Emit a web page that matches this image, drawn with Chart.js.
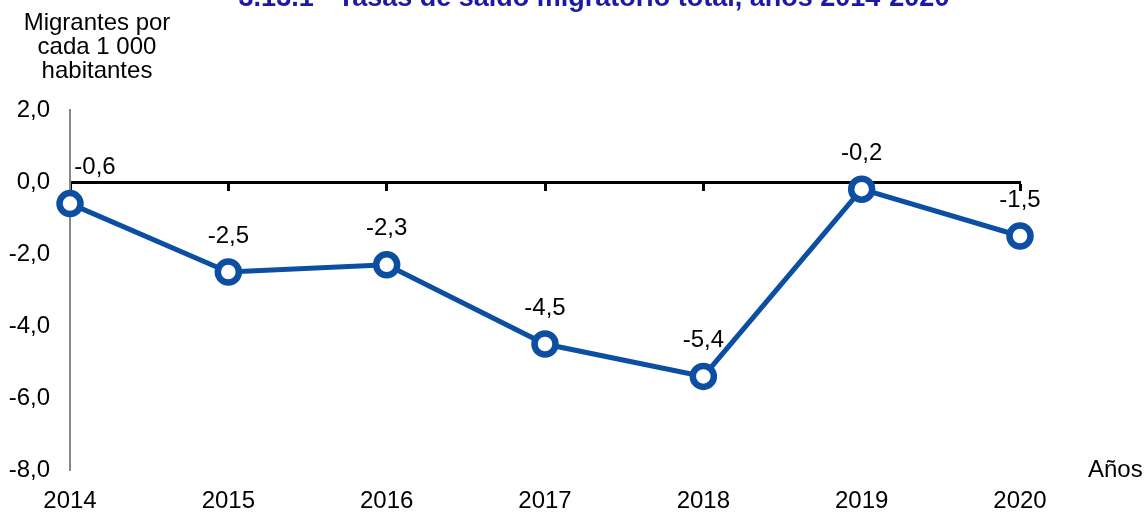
<!DOCTYPE html>
<html>
<head>
<meta charset="utf-8">
<script src="https://cdn.jsdelivr.net/npm/chart.js@4/dist/chart.umd.min.js"></script>
<style>
	html, body { margin: 0; padding: 0; background: #fff; }
	#wrap { width: 1144px; height: 514px; }
</style>
</head>
<body>
<div id="wrap"><canvas id="chart"></canvas></div>
<script>
'use strict';

const years = ['2014', '2015', '2016', '2017', '2018', '2019', '2020'];
const saldo = [-0.6, -2.5, -2.3, -4.5, -5.4, -0.2, -1.5];
const y_ticks = [2, 0, -2, -4, -6, -8];

const title_text = '3.13.1 - Tasas de saldo migratorio total, años 2014-2020';
const y_title = ['Migrantes por', 'cada 1 000', 'habitantes'];
const x_title = 'Años';

const blue = '#0b4ea2';
const font = 'Liberation Sans, Arial, sans-serif';

const fmt = v => v.toFixed(1).replace('.', ',');

// texts & labels
const extras = {
	id: 'extras',
	afterDatasetsDraw(chart) {
		const ctx = chart.ctx;
		const xs = chart.scales.x;
		const ys = chart.scales.y;
		ctx.save();

		ctx.fillStyle = '#1a1aa6';
		ctx.font = 'bold 27px ' + font;
		ctx.textAlign = 'center';
		ctx.textBaseline = 'alphabetic';
		ctx.fillText(title_text, 594, 6);

		ctx.fillStyle = '#000';
		ctx.font = '24px ' + font;
		ctx.textBaseline = 'middle';
		y_title.forEach((t, i) => ctx.fillText(t, 97, 23 + i * 24));

		ctx.textAlign = 'left';
		ctx.fillText(x_title, 1088, 470);

		saldo.forEach((v, i) => {
			let px = xs.getPixelForValue(i);
			const py = ys.getPixelForValue(v) - 36;
			if (i === 0) px += 25;
			ctx.textAlign = 'center';
			ctx.fillText(fmt(v), px, py);
		});
		ctx.restore();
	}
};

const ctx = document.getElementById('chart').getContext('2d');
new Chart(ctx, {
	type: 'line',
	data: {
		labels: years,
		datasets: [{
			data: saldo,
			borderColor: blue,
			borderWidth: 5,
			pointRadius: 10.5,
			pointBorderWidth: 6.5,
			pointBackgroundColor: '#fff',
			pointBorderColor: blue,
			tension: 0
		}]
	},
	options: {
		responsive: true,
		maintainAspectRatio: false,
		animation: false,
		layout: { padding: { top: 110, right: 124, left: 0, bottom: 0 } },
		plugins: {
			legend: { display: false },
			tooltip: { enabled: false }
		},
		scales: {
			x: {
				offset: false,
				grid: { display: false },
				border: { display: false },
				ticks: {
					color: '#000',
					font: { family: font, size: 24 },
					padding: 9,
					maxRotation: 0
				},
				afterFit(s) { s.height = 44; }
			},
			x0: {
				type: 'category',
				labels: years,
				position: { y: 0 },
				offset: false,
				border: { display: true, color: '#000', width: 3 },
				grid: {
					drawOnChartArea: false,
					drawTicks: true,
					tickLength: 7,
					tickWidth: 3,
					color: '#000'
				},
				ticks: { display: false }
			},
			y: {
				min: -8,
				max: 2,
				afterBuildTicks(s) { s.ticks = y_ticks.map(v => ({ value: v })); },
				grid: { display: false },
				border: { display: true, color: '#888', width: 2 },
				ticks: {
					color: '#000',
					font: { family: font, size: 24 },
					padding: 12,
					callback: v => fmt(v)
				},
				afterFit(s) { s.width = 70; }
			}
		}
	},
	plugins: [extras]
});
</script>
</body>
</html>
